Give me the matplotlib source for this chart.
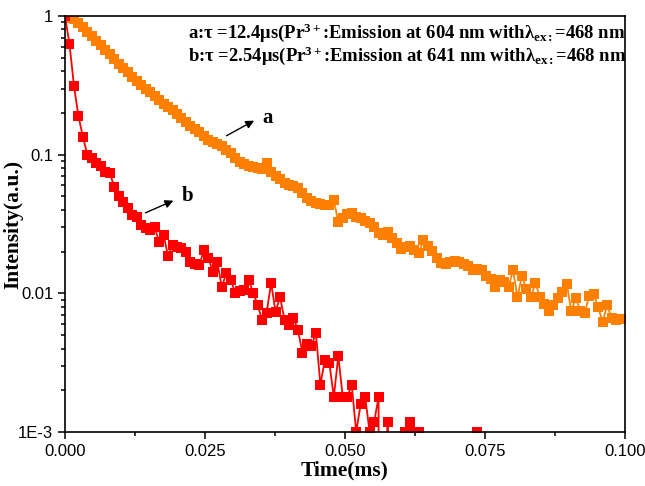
import matplotlib
matplotlib.use("Agg")
import matplotlib.pyplot as plt
from matplotlib.ticker import FixedLocator, FixedFormatter, LogLocator, NullFormatter

# time axis (ms), one channel every 0.8 us
time_ms = [
    0.0000, 0.0008, 0.0016, 0.0024, 0.0032, 0.0040, 0.0048, 0.0056, 0.0064, 0.0072,
    0.0080, 0.0088, 0.0096, 0.0104, 0.0112, 0.0120, 0.0128, 0.0136, 0.0144, 0.0152,
    0.0160, 0.0168, 0.0176, 0.0184, 0.0192, 0.0200, 0.0208, 0.0216, 0.0224, 0.0232,
    0.0240, 0.0248, 0.0256, 0.0264, 0.0272, 0.0280, 0.0288, 0.0296, 0.0304, 0.0312,
    0.0320, 0.0328, 0.0336, 0.0344, 0.0352, 0.0360, 0.0368, 0.0376, 0.0384, 0.0392,
    0.0400, 0.0408, 0.0416, 0.0424, 0.0432, 0.0440, 0.0448, 0.0456, 0.0464, 0.0472,
    0.0480, 0.0488, 0.0496, 0.0504, 0.0512, 0.0520, 0.0528, 0.0536, 0.0544, 0.0552,
    0.0560, 0.0568, 0.0576, 0.0584, 0.0592, 0.0600, 0.0608, 0.0616, 0.0624, 0.0632,
    0.0640, 0.0648, 0.0656, 0.0664, 0.0672, 0.0680, 0.0688, 0.0696, 0.0704, 0.0712,
    0.0720, 0.0728, 0.0736, 0.0744, 0.0752, 0.0760, 0.0768, 0.0776, 0.0784, 0.0792,
    0.0800, 0.0808, 0.0816, 0.0824, 0.0832, 0.0840, 0.0848, 0.0856, 0.0864, 0.0872,
    0.0880, 0.0888, 0.0896, 0.0904, 0.0912, 0.0920, 0.0928, 0.0936, 0.0944, 0.0952,
    0.0960, 0.0968, 0.0976, 0.0984, 0.0992,
]

# a: 604 nm emission (orange)
intensity_a = [
    1.0, 0.967, 0.951, 0.890, 0.833, 0.767, 0.718, 0.660, 0.618, 0.569,
    0.532, 0.490, 0.451, 0.422, 0.395, 0.363, 0.340, 0.318, 0.298, 0.283,
    0.265, 0.248, 0.232, 0.221, 0.210, 0.197, 0.184, 0.172, 0.161, 0.153,
    0.146, 0.136, 0.128, 0.124, 0.119, 0.1155, 0.108, 0.1028, 0.0947, 0.0886,
    0.0857, 0.0829, 0.0815, 0.0802, 0.0790, 0.0871, 0.0750, 0.0702, 0.0668, 0.0625,
    0.0605, 0.0595, 0.0575, 0.0530, 0.0488, 0.0464, 0.0449, 0.0441, 0.0434, 0.0434,
    0.0471, 0.0327, 0.0350, 0.0374, 0.0380, 0.0356, 0.0350, 0.0333, 0.0322, 0.0301,
    0.0273, 0.0264, 0.0277, 0.0251, 0.0231, 0.0209, 0.0216, 0.0220, 0.0206, 0.0196,
    0.0243, 0.0220, 0.0202, 0.0180, 0.0166, 0.0163, 0.0168, 0.0171, 0.0168, 0.0163,
    0.0158, 0.0147, 0.0150, 0.0147, 0.0134, 0.0127, 0.0111, 0.0125, 0.0121, 0.0111,
    0.0147, 0.00942, 0.0134, 0.0108, 0.00942, 0.0119, 0.00942, 0.00839, 0.00747, 0.00825,
    0.00927, 0.0102, 0.0117, 0.00747, 0.00927, 0.00750, 0.00722, 0.00958, 0.00990, 0.00798,
    0.00622, 0.00825, 0.00665, 0.00643, 0.00654,
]

# b: 641 nm emission (red), zeros fall below the axis
intensity_b = [
    1.0, 0.628, 0.313, 0.190, 0.134, 0.0995, 0.0947, 0.0871, 0.0829, 0.0750,
    0.0738, 0.0585, 0.0504, 0.0456, 0.0413, 0.0367, 0.0356, 0.0311, 0.0296, 0.0286,
    0.0301, 0.0235, 0.0264, 0.0186, 0.0223, 0.0216, 0.0212, 0.0199, 0.0168, 0.0163,
    0.0160, 0.0206, 0.0180, 0.0143, 0.0168, 0.0111, 0.0140, 0.0125, 0.0101, 0.0104,
    0.0106, 0.0125, 0.0101, 0.00825, 0.00643, 0.00722, 0.0119, 0.00735, 0.00942, 0.00643,
    0.00592, 0.00665, 0.00545, 0.00372, 0.00432, 0.00418, 0.00518, 0.00219, 0.00331, 0.00315,
    0.00179, 0.00354, 0.00179, 0.00179, 0.00219, 0.00100, 0.00160, 0.00179, 0.00100, 0.00118,
    0.00179, 0.0, 0.00118, 0.0, 0.0, 0.0, 0.00100, 0.00118, 0.00100, 0.00100,
    0.0, 0.0, 0.0, 0.0, 0.0, 0.0, 0.0, 0.0, 0.0, 0.0,
    0.0, 0.0, 0.00100,
]

x_ticks = [0.000, 0.025, 0.050, 0.075, 0.100]
x_tick_labels = ["0.000", "0.025", "0.050", "0.075", "0.100"]
y_ticks = [1e-3, 1e-2, 1e-1, 1]
y_tick_labels = ["1E-3", "0.01", "0.1", "1"]

line_a = "a:τ =12.4μs(Pr$^{3+}$:Emission at 604 nm withλ$_{\\mathrm{ex:}}$=468 nm"
line_b = "b:τ =2.54μs(Pr$^{3+}$:Emission at 641 nm withλ$_{\\mathrm{ex:}}$=468 nm"

plt.rcParams["mathtext.fontset"] = "custom"
plt.rcParams["mathtext.rm"] = "Liberation Serif:bold"
plt.rcParams["mathtext.it"] = "Liberation Serif:bold:italic"
plt.rcParams["mathtext.bf"] = "Liberation Serif:bold"

fig = plt.figure(figsize=(6.45, 4.86), dpi=100)
ax = fig.add_axes([0.1008, 0.111, 0.8682, 0.856])

ax.plot(time_ms, intensity_a, color="#FF8000", marker="s", markersize=6.5,
        linewidth=1.3, markeredgewidth=0)
ax.plot(time_ms[:len(intensity_b)], intensity_b, color="#FF0000", marker="s",
        markersize=6.5, linewidth=1.3, markeredgewidth=0)

ax.set_yscale("log")
ax.set_xlim(0, 0.1)
ax.set_ylim(1e-3, 1)

ax.xaxis.set_major_locator(FixedLocator(x_ticks))
ax.xaxis.set_major_formatter(FixedFormatter(x_tick_labels))
ax.xaxis.set_minor_locator(FixedLocator([0.0125, 0.0375, 0.0625, 0.0875]))
ax.yaxis.set_major_locator(FixedLocator(y_ticks))
ax.yaxis.set_major_formatter(FixedFormatter(y_tick_labels))
ax.yaxis.set_minor_locator(LogLocator(base=10, subs=range(2, 10)))
ax.yaxis.set_minor_formatter(NullFormatter())

ax.tick_params(which="both", direction="out", top=False, right=False, width=1.1)
ax.tick_params(which="major", length=5, labelsize=12)
ax.tick_params(which="minor", length=3)
for lab in ax.get_xticklabels() + ax.get_yticklabels():
    lab.set_fontfamily("Liberation Sans")
for s in ax.spines.values():
    s.set_linewidth(1.2)

ax.set_xlabel("Time(ms)", fontfamily="Liberation Serif", fontweight="bold",
              fontsize=15.5, labelpad=1)
ax.set_ylabel("Intensity(a.u.)", fontfamily="Liberation Serif", fontweight="bold",
              fontsize=15.5)
ax.yaxis.set_label_coords(-0.075, 0.5)

ax.text(0.2196, 0.947, line_a, transform=ax.transAxes, fontfamily="Liberation Serif",
        fontweight="bold", fontsize=13.4, va="baseline")
ax.text(0.2196, 0.892, line_b, transform=ax.transAxes, fontfamily="Liberation Serif",
        fontweight="bold", fontsize=13.4, va="baseline")

arrow = dict(arrowstyle="-|>", color="black", lw=1.0, mutation_scale=12)
ax.annotate("", xy=(0.0342, 0.180), xytext=(0.0284, 0.134), arrowprops=arrow)
ax.text(0.0353, 0.184, "a", fontfamily="Liberation Serif", fontweight="bold",
        fontsize=15, va="center")
ax.annotate("", xy=(0.0198, 0.0475), xytext=(0.0139, 0.0374), arrowprops=arrow)
ax.text(0.0209, 0.0500, "b", fontfamily="Liberation Serif", fontweight="bold",
        fontsize=15, va="center")

fig.savefig("out.png", dpi=100)
